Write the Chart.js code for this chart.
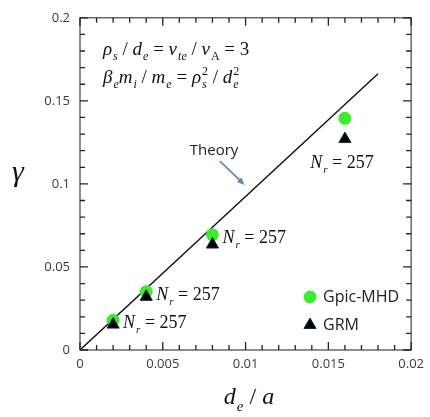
<!DOCTYPE html>
<html>
<head>
<meta charset="utf-8">
<script src="https://cdn.jsdelivr.net/npm/chart.js@4"></script>
<style>
  body { margin: 0; background: #ffffff; }
  #wrap { width: 430px; height: 417px; }
</style>
</head>
<body>
<div id="wrap"><canvas id="growthChart" width="430" height="417"></canvas></div>
<script>
// ==========================================
// growth rate vs d_e / a
// ==========================================

const deOverA = [0.002, 0.004, 0.008, 0.016];
const gpicMhd = [0.0179, 0.0351, 0.0694, 0.1395];
const grm = [0.0153, 0.032, 0.0635, 0.127];
const nrValues = [257, 257, 257, 257];

const theoryX = [0, 0.018];
const theoryY = [0, 0.1663];

const xTicks = [0, 0.005, 0.01, 0.015, 0.02];
const yTicks = [0, 0.05, 0.1, 0.15, 0.2];

const SERIF = "'Liberation Serif', 'DejaVu Serif', serif";
const SANS = "'Open Sans', 'Noto Sans', sans-serif";

function fmt(v) {
    return String(Math.round(v * 1000) / 1000);
}

// draws a string made of pieces: [text, italic, place]
// place: "" normal, "sub", "sup" (sup does not advance, next sub shares it)
function drawRich(ctx, x, y, parts, size) {
    let cx = x;
    let supW = 0;
    const small = Math.round(size * 0.62);
    ctx.textAlign = "left";
    ctx.textBaseline = "alphabetic";
    parts.forEach(p => {
        const txt = p[0], it = p[1], place = p[2] || "";
        const s = place ? small : size;
        ctx.font = (it ? "italic " : "") + s + "px " + SERIF;
        const w = ctx.measureText(txt).width;
        if (place === "sup") {
            ctx.fillText(txt, cx + 1, y - size * 0.42);
            supW = w + 1;
        } else if (place === "sub") {
            ctx.fillText(txt, cx + 1, y + size * 0.28);
            cx += Math.max(w + 1, supW);
            supW = 0;
        } else {
            ctx.fillText(txt, cx, y);
            cx += w;
        }
    });
    return cx - x;
}

function nrParts(n) {
    return [["N", true], ["r", true, "sub"], [" = " + n, false]];
}

const framePlugin = {
    id: "frame",
    afterDraw(chart) {
        const ctx = chart.ctx;
        const a = chart.chartArea;
        const xs = chart.scales.x;
        const ys = chart.scales.y;

        ctx.save();

        // frame
        ctx.strokeStyle = "#444444";
        ctx.lineWidth = 1.2;
        ctx.strokeRect(a.left, a.top, a.right - a.left, a.bottom - a.top);

        // inward ticks on all four sides
        ctx.lineWidth = 1.3;
        ctx.strokeStyle = "#222222";
        for (let i = 0; i <= 20; i++) {
            const px = xs.getPixelForValue(i / 1000);
            const len = i % 5 === 0 ? 8 : 5;
            ctx.beginPath();
            ctx.moveTo(px, a.bottom);
            ctx.lineTo(px, a.bottom - len);
            ctx.moveTo(px, a.top);
            ctx.lineTo(px, a.top + len);
            ctx.stroke();
        }
        for (let i = 0; i <= 20; i++) {
            const py = ys.getPixelForValue(i / 100);
            const len = i % 5 === 0 ? 8 : 5;
            ctx.beginPath();
            ctx.moveTo(a.left, py);
            ctx.lineTo(a.left + len, py);
            ctx.moveTo(a.right, py);
            ctx.lineTo(a.right - len, py);
            ctx.stroke();
        }

        // parameter text
        ctx.fillStyle = "#111111";
        drawRich(ctx, 103, 55, [
            ["ρ", true], ["s", true, "sub"], [" / ", false],
            ["d", true], ["e", true, "sub"], [" = ", false],
            ["v", true], ["te", true, "sub"], [" / ", false],
            ["v", true], ["A", false, "sub"], [" = 3", false]
        ], 19);
        drawRich(ctx, 103, 83, [
            ["β", true], ["e", true, "sub"], ["m", true], ["i", true, "sub"],
            [" / ", false], ["m", true], ["e", true, "sub"], [" = ", false],
            ["ρ", true], ["2", false, "sup"], ["s", true, "sub"], [" / ", false],
            ["d", true], ["2", false, "sup"], ["e", true, "sub"]
        ], 19);

        // N_r labels
        deOverA.forEach((v, i) => {
            const px = xs.getPixelForValue(v);
            if (i === deOverA.length - 1) {
                const parts = nrParts(nrValues[i]);
                const w = drawRich(ctx, -1000, -1000, parts, 18);
                drawRich(ctx, px - 3 - w / 2, ys.getPixelForValue(grm[i]) + 29, parts, 18);
            } else {
                drawRich(ctx, px + 10, ys.getPixelForValue(gpicMhd[i]) + 8, nrParts(nrValues[i]), 18);
            }
        });

        // theory label and arrow
        ctx.font = "15px " + SANS;
        ctx.fillStyle = "#222222";
        ctx.textAlign = "center";
        ctx.textBaseline = "middle";
        ctx.fillText("Theory", xs.getPixelForValue(0.0081), ys.getPixelForValue(0.1202));

        const x0 = xs.getPixelForValue(0.00845), y0 = ys.getPixelForValue(0.1137);
        const x1 = xs.getPixelForValue(0.00994), y1 = ys.getPixelForValue(0.0994);
        const ang = Math.atan2(y1 - y0, x1 - x0);
        ctx.strokeStyle = "#5a84bd";
        ctx.fillStyle = "#5a84bd";
        ctx.lineWidth = 1.6;
        ctx.beginPath();
        ctx.moveTo(x0, y0);
        ctx.lineTo(x1 - 5 * Math.cos(ang), y1 - 5 * Math.sin(ang));
        ctx.stroke();
        ctx.beginPath();
        ctx.moveTo(x1, y1);
        ctx.lineTo(x1 - 8 * Math.cos(ang - 0.4), y1 - 8 * Math.sin(ang - 0.4));
        ctx.lineTo(x1 - 8 * Math.cos(ang + 0.4), y1 - 8 * Math.sin(ang + 0.4));
        ctx.closePath();
        ctx.fill();

        // legend
        const sets = chart.data.datasets;
        [sets[1], sets[0]].forEach((ds, i) => {
            const ly = 297 + i * 28;
            ctx.fillStyle = ds.backgroundColor;
            ctx.strokeStyle = ds.borderColor;
            ctx.lineWidth = ds.borderWidth || 0;
            Chart.helpers.drawPoint(ctx, {
                pointStyle: ds.pointStyle,
                radius: ds.pointRadius,
                borderWidth: ds.borderWidth || 0
            }, 310, ly);
        });
        ctx.font = "16px " + SANS;
        ctx.fillStyle = "#222222";
        ctx.textAlign = "left";
        ctx.textBaseline = "middle";
        ctx.fillText(sets[1].label, 323, 297);
        ctx.fillText(sets[0].label, 323, 325);

        // axis titles
        ctx.fillStyle = "#111111";
        ctx.font = "italic 30px " + SERIF;
        ctx.textAlign = "center";
        ctx.textBaseline = "alphabetic";
        ctx.fillText("γ", 18, 181);
        const title = [["d", true], ["e", true, "sub"], [" / ", false], ["a", true]];
        const tw = drawRich(ctx, -1000, -1000, title, 24);
        drawRich(ctx, 249 - tw / 2, 404, title, 24);

        ctx.restore();
    }
};

const growthChart = new Chart(
    document.getElementById("growthChart"),
    {
        type: "scatter",

        data: {
            datasets: [
                {
                    label: "GRM",
                    data: deOverA.map((v, i) => ({ x: v, y: grm[i] })),
                    pointStyle: "triangle",
                    pointRadius: 7,
                    backgroundColor: "#000000",
                    borderColor: "#1b2540",
                    borderWidth: 1,
                    order: 0
                },
                {
                    label: "Gpic-MHD",
                    data: deOverA.map((v, i) => ({ x: v, y: gpicMhd[i] })),
                    pointStyle: "circle",
                    pointRadius: 6.5,
                    backgroundColor: "#3dec2e",
                    borderColor: "#3dec2e",
                    borderWidth: 0,
                    order: 1
                },
                {
                    type: "line",
                    label: "Theory",
                    data: theoryX.map((v, i) => ({ x: v, y: theoryY[i] })),
                    borderColor: "#111111",
                    borderWidth: 1.4,
                    pointRadius: 0,
                    showLine: true,
                    order: 2
                }
            ]
        },

        options: {
            responsive: false,
            devicePixelRatio: 1,
            animation: false,
            layout: {
                padding: { top: 14, right: 14, left: 0, bottom: 0 }
            },
            plugins: {
                legend: { display: false },
                tooltip: { enabled: false }
            },
            scales: {
                x: {
                    type: "linear",
                    min: 0,
                    max: 0.02,
                    afterBuildTicks: s => { s.ticks = xTicks.map(v => ({ value: v })); },
                    afterFit: s => { s.height = 67; },
                    grid: { display: false, drawTicks: false },
                    border: { display: false },
                    ticks: {
                        padding: 6,
                        color: "#3a3a3a",
                        font: { family: SANS, size: 13 },
                        maxRotation: 0,
                        callback: v => fmt(v)
                    }
                },
                y: {
                    type: "linear",
                    min: 0,
                    max: 0.2,
                    afterBuildTicks: s => { s.ticks = yTicks.map(v => ({ value: v })); },
                    afterFit: s => { s.width = 80; },
                    grid: { display: false, drawTicks: false },
                    border: { display: false },
                    ticks: {
                        padding: 10,
                        color: "#3a3a3a",
                        font: { family: SANS, size: 13 },
                        callback: v => fmt(v)
                    }
                }
            }
        },

        plugins: [framePlugin]
    }
);
</script>
</body>
</html>
